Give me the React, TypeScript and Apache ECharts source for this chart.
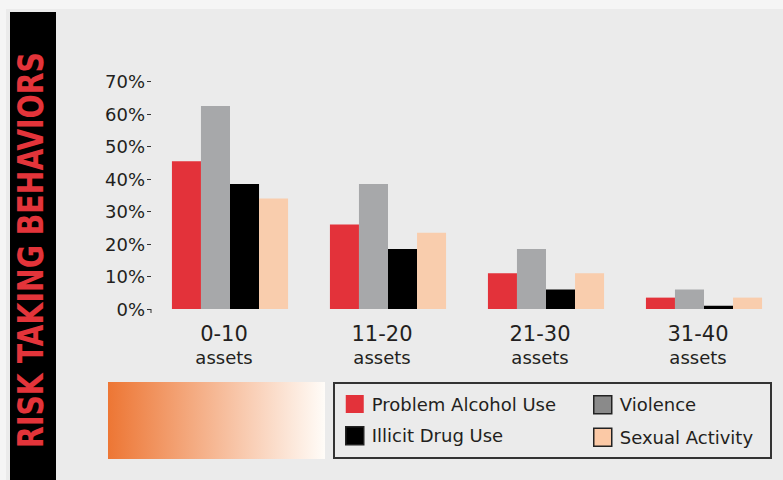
import React, { useEffect, useRef } from "react";
import * as echarts from "echarts";

const categories = ["0-10", "11-20", "21-30", "31-40"];
const categorySuffix = "assets";
const seriesNames = ["Problem Alcohol Use", "Violence", "Illicit Drug Use", "Sexual Activity"];
const alcohol = [45.5, 26, 11, 3.5];
const violence = [62.5, 38.5, 18.5, 6];
const drug = [38.5, 18.5, 6, 1];
const sexual = [34, 23.5, 11, 3.5];
const yMax = 70;
const yStep = 10;
const title = "RISK TAKING BEHAVIORS";

const COLORS = ["#e3323a", "#a7a8aa", "#000000", "#f9cdad"];
const TEXT = "#231f20";
const FONT = "'DejaVu Sans', sans-serif";

export default function App() {
  const ref = useRef<HTMLDivElement>(null);
  useEffect(() => {
    if (!ref.current) return;
    const chart = echarts.init(ref.current, null, { renderer: "svg" });
    const values = [alcohol, violence, drug, sexual];
    const option: any = {
      animation: false,
      backgroundColor: "#f5f5f5",
      grid: { left: 151, width: 637, top: 81.5, bottom: 171, containLabel: false },
      xAxis: {
        type: "category",
        data: categories,
        axisLine: { show: false },
        axisTick: { show: false },
        axisLabel: {
          margin: 13,
          padding: [0, 12, 0, 0],
          formatter: (v: string) => `{a|${v}}\n{b|${categorySuffix}}`,
          rich: {
            a: { fontFamily: FONT, fontSize: 21, color: TEXT, lineHeight: 24, align: "center" },
            b: { fontFamily: FONT, fontSize: 18, color: TEXT, lineHeight: 22, align: "center" },
          },
        },
      },
      yAxis: {
        type: "value",
        min: 0,
        max: yMax,
        interval: yStep,
        splitLine: { show: false },
        axisLine: { show: false },
        axisTick: { show: true, length: 4, lineStyle: { color: "#333", width: 1 } },
        axisLabel: {
          margin: 6,
          formatter: "{value}%",
          fontFamily: FONT,
          fontSize: 18,
          color: TEXT,
          padding: [6, 0, 0, 0],
        },
      },
      legend: [
        {
          left: 345,
          top: 395,
          orient: "vertical",
          padding: 0,
          itemGap: 13,
          itemWidth: 18,
          itemHeight: 18,
          icon: "rect",
          textStyle: { fontFamily: FONT, fontSize: 18, color: TEXT, padding: [0, 0, 0, 3] },
          data: [
            { name: seriesNames[0], itemStyle: { color: COLORS[0] } },
            { name: seriesNames[2], itemStyle: { color: "#000", borderColor: "#222", borderWidth: 1.5 } },
          ],
        },
        {
          left: 593,
          top: 395,
          orient: "vertical",
          padding: 0,
          itemGap: 13,
          itemWidth: 18,
          itemHeight: 18,
          icon: "rect",
          textStyle: { fontFamily: FONT, fontSize: 18, color: TEXT, padding: [0, 0, 0, 3] },
          data: [
            { name: seriesNames[1], itemStyle: { color: "#8a8a8a", borderColor: "#222", borderWidth: 1.5 } },
            { name: seriesNames[3], itemStyle: { color: "#fbc9a6", borderColor: "#222", borderWidth: 1.5 } },
          ],
        },
      ],
      series: seriesNames.map((name, i) => ({
        name,
        type: "bar",
        data: values[i],
        barGap: "0%",
        barCategoryGap: "26.5%",
        itemStyle: { color: COLORS[i] },
        emphasis: { disabled: true },
      })),
      graphic: [
        { type: "rect", z: -10, shape: { x: 6, y: 9, width: 777, height: 471 }, style: { fill: "#ebebeb" } },
        { type: "rect", z: -5, shape: { x: 10, y: 12, width: 46, height: 468 }, style: { fill: "#000" } },
        {
          type: "text",
          z: 10,
          x: 31,
          y: 250,
          rotation: Math.PI / 2,
          scaleX: 0.9,
          style: {
            text: title,
            fill: "#e3343a",
            font: "bold 35px 'Liberation Sans Narrow', 'DejaVu Sans Condensed', sans-serif",
            textAlign: "center",
            textVerticalAlign: "middle",
          },
        },
        {
          type: "line",
          z: 10,
          shape: { x1: 151, y1: 309, x2: 151, y2: 313 },
          style: { stroke: "#333", lineWidth: 1 },
        },
        {
          type: "rect",
          z: -5,
          shape: { x: 108, y: 382, width: 217, height: 77 },
          style: {
            fill: new echarts.graphic.LinearGradient(0, 0, 1, 0, [
              { offset: 0, color: "#ed7634" },
              { offset: 1, color: "#fffcf8" },
            ]),
          },
        },
        {
          type: "rect",
          z: -5,
          shape: { x: 334, y: 383, width: 437, height: 75 },
          style: { fill: "none", stroke: "#333", lineWidth: 2 },
        },
      ],
    };
    chart.setOption(option);
    return () => chart.dispose();
  }, []);
  return <div ref={ref} style={{ position: "fixed", left: 0, top: 0, width: 783, height: 480 }} />;
}
